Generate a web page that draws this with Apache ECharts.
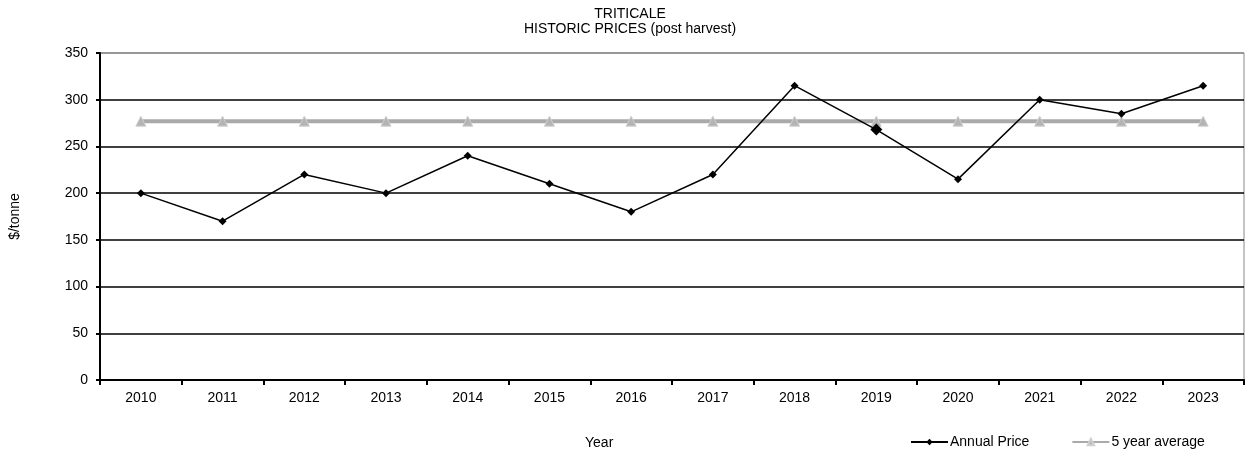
<!DOCTYPE html>
<html>
<head>
<meta charset="utf-8">
<script src="https://cdn.jsdelivr.net/npm/echarts@6/dist/echarts.min.js"></script>
<style>
  html, body { margin: 0; padding: 0; background: #fff; }
  #chart { width: 1246px; height: 453px; }
</style>
</head>
<body>
<div id="chart"></div>
<script>
// Triticale post-harvest prices, $/tonne
const years = ['2010','2011','2012','2013','2014','2015','2016','2017','2018','2019','2020','2021','2022','2023'];
const annualPrice = [200, 170, 220, 200, 240, 210, 180, 220, 315, 268, 215, 300, 285, 315];
const fiveYearAverage = [277, 277, 277, 277, 277, 277, 277, 277, 277, 277, 277, 277, 277, 277];
const yTicks = [0, 50, 100, 150, 200, 250, 300, 350];

const FONT = 'Liberation Sans, Arial, Helvetica, sans-serif';
const FS = 14;
const chart = echarts.init(document.getElementById('chart'), null, { renderer: 'canvas' });

// grid lines are black, the top one doubles as the grey plot frame
const splitColors = yTicks.map((v, i) => (i === yTicks.length - 1 ? '#888' : '#000'));

chart.setOption({
  animation: false,
  backgroundColor: '#fff',
  textStyle: { fontFamily: FONT, color: '#000' },
  title: {
    text: 'TRITICALE\nHISTORIC PRICES (post harvest)',
    left: 625, top: 2, textAlign: 'center',
    textStyle: { fontFamily: FONT, fontSize: FS, fontWeight: 'normal', color: '#000', lineHeight: 15 }
  },
  legend: {
    left: 905, top: 430,
    itemGap: 42, itemWidth: 37, itemHeight: 8,
    textStyle: { fontFamily: FONT, fontSize: FS, color: '#000', padding: [0, 0, 0, -3] },
    data: ['Annual Price', '5 year average']
  },
  graphic: [
    {
      type: 'text', left: 585, top: 436,
      style: { text: 'Year', font: FS + 'px ' + FONT, fill: '#000' }
    }
  ],
  grid: { left: 100, right: 2, top: 53, bottom: 73, containLabel: false,
          show: true, borderColor: '#888', borderWidth: 1 },
  xAxis: {
    type: 'category', data: years, boundaryGap: true,
    axisLine: { lineStyle: { color: '#000', width: 2 } },
    axisTick: { show: true, length: 5, lineStyle: { color: '#000', width: 2 } },
    axisLabel: { fontFamily: FONT, fontSize: FS, color: '#000', margin: 11 },
    splitLine: { show: false }
  },
  yAxis: {
    type: 'value', min: 0, max: 350, interval: 50,
    name: '$/tonne', nameLocation: 'middle', nameGap: 78, nameRotate: 90,
    nameTextStyle: { fontFamily: FONT, fontSize: FS, color: '#000' },
    axisLine: { show: true, lineStyle: { color: '#000', width: 2 } },
    axisTick: { show: true, length: 4, inside: false, lineStyle: { color: '#000', width: 2 } },
    axisLabel: { fontFamily: FONT, fontSize: FS, color: '#000', margin: 12 },
    splitLine: { show: true, lineStyle: { color: splitColors, width: 1.5 } }
  },
  series: [
    {
      name: '5 year average', type: 'line', data: fiveYearAverage,
      symbol: 'triangle', symbolSize: 10,
      lineStyle: { color: '#aaa', width: 4 },
      itemStyle: { color: '#b4b4b4', borderColor: '#d0d0d0', borderWidth: 1 },
      z: 2
    },
    {
      name: 'Annual Price', type: 'line',
      data: annualPrice.map((v, i) => (years[i] === '2019' ? { value: v, symbolSize: 12 } : v)),
      symbol: 'diamond', symbolSize: 8,
      lineStyle: { color: '#000', width: 1.5 },
      itemStyle: { color: '#000' },
      z: 3
    }
  ]
});
</script>
</body>
</html>
